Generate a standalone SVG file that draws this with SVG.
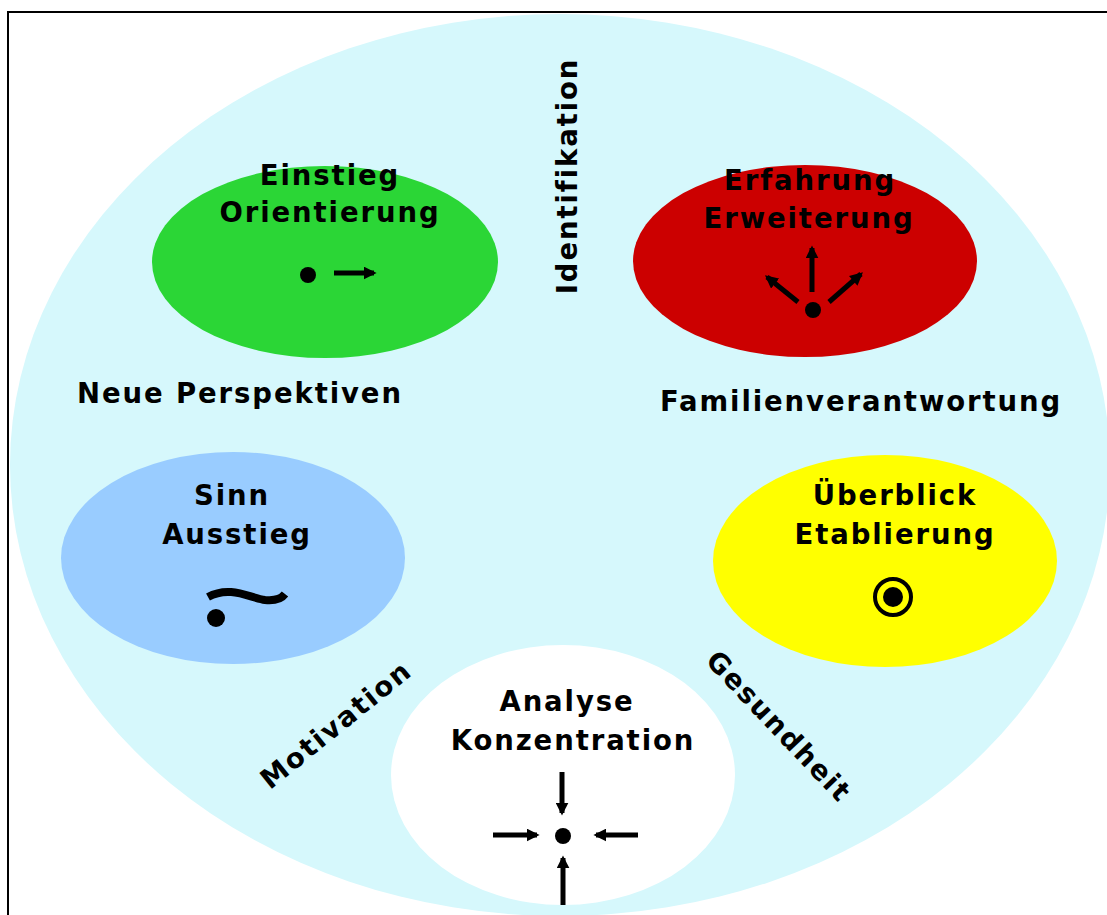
<svg xmlns="http://www.w3.org/2000/svg" width="1107" height="915" viewBox="0 0 1107 915">
<style>
.t{font-family:"DejaVu Sans","Liberation Sans",sans-serif;font-weight:bold;font-size:27.5px;fill:#000;letter-spacing:1.9px}
.c{text-anchor:middle}
.ar{stroke:#000;stroke-width:5;fill:none;marker-end:url(#ah)}
</style>
<defs>
<marker id="ah" viewBox="0 0 10 10" refX="8" refY="5" markerWidth="2.6" markerHeight="2.6" orient="auto" markerUnits="strokeWidth">
<path d="M0,0 L10,5 L0,10 Z" fill="#000"/>
</marker>
</defs>
<rect x="0" y="0" width="1107" height="915" fill="#fff"/>
<rect x="8" y="12" width="1110" height="915" fill="#fff" stroke="#000" stroke-width="2"/>
<g id="background">
<ellipse cx="560" cy="465" rx="550" ry="451" fill="#D6F8FC"/>
</g>
<g id="labels">
<text class="t c" transform="translate(577,176) rotate(-90)">Identifikation</text>
<text class="t" x="77" y="403">Neue Perspektiven</text>
<text class="t" x="660" y="411">Familienverantwortung</text>
<text class="t c" transform="translate(342,732) rotate(-39)">Motivation</text>
<text class="t c" transform="translate(772,733) rotate(46.5)">Gesundheit</text>
</g>
<g id="einstieg">
<ellipse cx="325" cy="262" rx="173" ry="96" fill="#2BD636"/>
<text class="t c" x="330" y="185">Einstieg</text>
<text class="t c" x="330" y="222">Orientierung</text>
<circle cx="308" cy="275" r="8" fill="#000"/>
</g>
<g id="erfahrung">
<ellipse cx="805" cy="261" rx="172" ry="96" fill="#CC0000"/>
<text class="t c" x="810" y="190">Erfahrung</text>
<text class="t c" x="809" y="228">Erweiterung</text>
<circle cx="813" cy="310" r="8" fill="#000"/>
</g>
<g id="sinn">
<ellipse cx="233" cy="558" rx="172" ry="106" fill="#99CCFF"/>
<text class="t c" x="232" y="505">Sinn</text>
<text class="t c" x="237" y="544">Ausstieg</text>
<path d="M208,597 C230,585 250,598 265,600 C275,601 282,598 285,594" stroke="#000" stroke-width="8" fill="none"/>
<circle cx="216" cy="618" r="9" fill="#000"/>
</g>
<g id="ueberblick">
<ellipse cx="885" cy="561" rx="172" ry="106" fill="#FFFF00"/>
<text class="t c" x="895" y="505">Überblick</text>
<text class="t c" x="895" y="544">Etablierung</text>
<circle cx="893" cy="597" r="18" fill="none" stroke="#000" stroke-width="4"/>
<circle cx="893" cy="597" r="10" fill="#000"/>
</g>
<g id="analyse">
<ellipse cx="563" cy="775" rx="172" ry="130" fill="#fff"/>
<text class="t c" x="567" y="711">Analyse</text>
<text class="t c" x="573" y="750">Konzentration</text>
<circle cx="563" cy="836" r="8" fill="#000"/>
</g>
<g id="connectors">
<line class="ar" x1="334" y1="273" x2="374" y2="273"/>
<line class="ar" x1="812" y1="292" x2="812" y2="248"/>
<line class="ar" x1="798" y1="302" x2="767" y2="277"/>
<line class="ar" x1="829" y1="302" x2="861" y2="274"/>
<line class="ar" x1="562" y1="772" x2="562" y2="813"/>
<line class="ar" x1="493" y1="835" x2="537" y2="835"/>
<line class="ar" x1="638" y1="835" x2="596" y2="835"/>
<line class="ar" x1="563" y1="905" x2="563" y2="858"/>
</g>
</svg>
